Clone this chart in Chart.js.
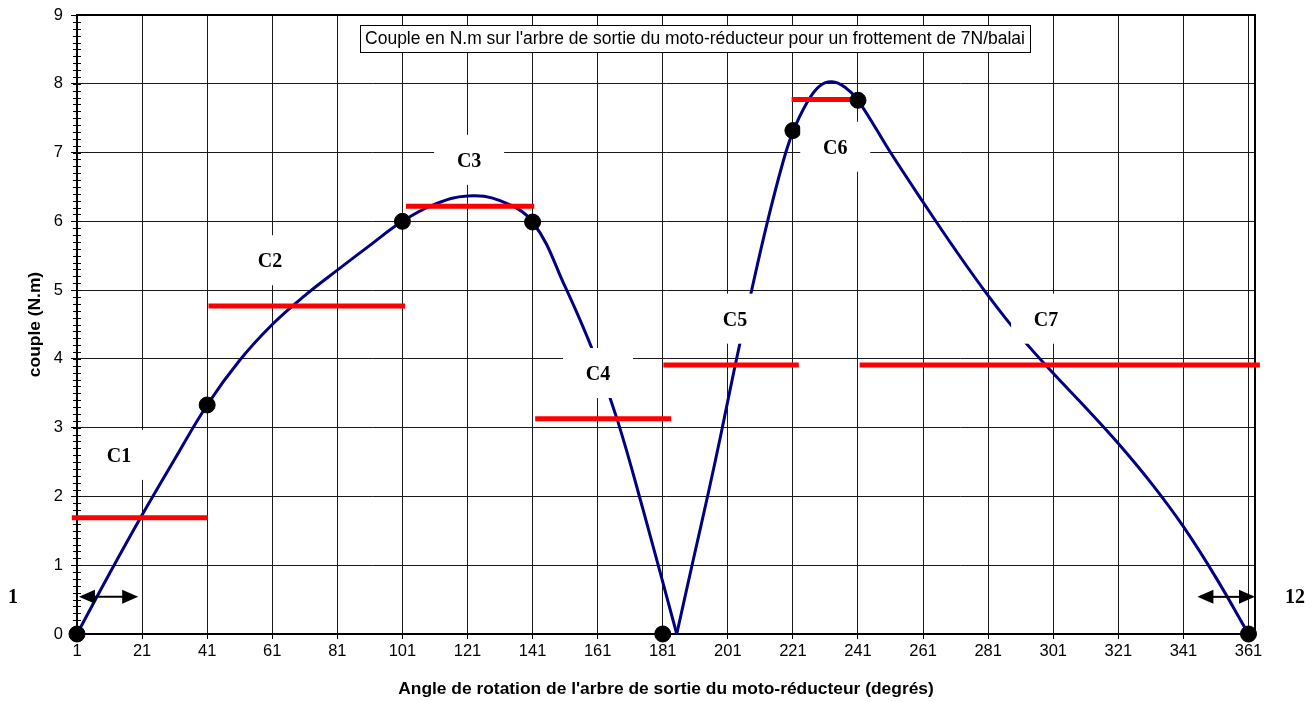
<!DOCTYPE html>
<html>
<head>
  <meta charset="utf-8">
  <title>couple moto-reducteur</title>
  <script src="https://cdn.jsdelivr.net/npm/chart.js"></script>
  <style>body{margin:0;background:#fff}</style>
</head>
<body>
  <canvas id="chart" width="1316" height="702"></canvas>

  <script>
    // torque curve (angle in degrees, torque in N.m)
    // split at the cusp near 185 degrees so the V stays sharp
    const anglesUp = [1, 11, 21, 31, 41, 51, 61, 71, 81, 91, 101, 111, 121, 131, 141, 151, 160, 167, 175, 185.3];
    const torqueUp = [0, 0.88, 1.73, 2.54, 3.33, 3.98, 4.50, 4.92, 5.29, 5.65, 6.0, 6.25, 6.37, 6.30, 5.99, 5.05, 4.06, 3.12, 1.80, 0];
    const anglesDown = [185.3, 190, 195, 199, 203, 208, 213, 218, 221, 225, 229, 233, 237, 241, 251, 261, 271, 281, 291,
      301, 311, 321, 331, 341, 351, 361];
    const torqueDown = [0, 1.0, 2.05, 2.93, 3.85, 4.93, 5.96, 6.87, 7.30, 7.70, 7.96, 8.03, 7.95, 7.76, 7.00, 6.28, 5.58, 4.92, 4.32,
      3.79, 3.29, 2.77, 2.20, 1.56, 0.82, 0];

    // black markers
    const markAngles = [1, 41, 101, 141, 181, 221, 241, 361];
    const markTorque = [0, 3.33, 6.0, 5.99, 0, 7.32, 7.76, 0];

    // red mean torque steps C1..C7
    const stepNames = ['C1', 'C2', 'C3', 'C4', 'C5', 'C6', 'C7'];
    const stepFrom = [-0.6, 41.4, 102.1, 141.8, 181.2, 220.6, 241.5];
    const stepTo = [41.2, 101.8, 141.5, 183.6, 222.8, 241.2, 364.5];
    const stepLevel = [1.69, 4.77, 6.22, 3.13, 3.91, 7.77, 3.91];
    const nameAngles = [13.9, 60.3, 121.5, 161.1, 203.2, 234, 298.8];
    const nameTorque = [2.59, 5.42, 6.88, 3.78, 4.57, 7.07, 4.57];

    // double arrows at both ends
    const arrowFrom = [1.6, 345.3];
    const arrowTo = [19.8, 363];
    const arrowLevel = 0.54;

    const xTicks = [1, 21, 41, 61, 81, 101, 121, 141, 161, 181, 201, 221, 241, 261, 281, 301, 321, 341, 361];
    const yMax = 9;

    const chartTitle = "Couple en N.m sur l'arbre de sortie du moto-réducteur pour un frottement de 7N/balai";
    const xTitle = "Angle de rotation de l'arbre de sortie du moto-réducteur (degrés)";
    const yTitle = 'couple (N.m)';

    const sans = '"Liberation Sans", Arial, sans-serif';
    const toPoints = (xs, ys) => xs.map((a, i) => ({ x: a, y: ys[i] }));
    const stepData = [];
    stepFrom.forEach((a, i) => {
      stepData.push({ x: a, y: stepLevel[i] }, { x: stepTo[i], y: stepLevel[i] }, { x: stepTo[i], y: null });
    });

    function arrow(ctx, x1, x2, y) {
      const head = 16, half = 7;
      ctx.beginPath();
      ctx.moveTo(x1 + head - 2, y);
      ctx.lineTo(x2 - head + 2, y);
      ctx.lineWidth = 2;
      ctx.strokeStyle = '#000';
      ctx.stroke();
      ctx.beginPath();
      ctx.moveTo(x1, y); ctx.lineTo(x1 + head, y - half); ctx.lineTo(x1 + head, y + half); ctx.closePath();
      ctx.moveTo(x2, y); ctx.lineTo(x2 - head, y - half); ctx.lineTo(x2 - head, y + half); ctx.closePath();
      ctx.fillStyle = '#000';
      ctx.fill();
    }

    const decor = {
      id: 'decor',
      beforeDatasetsDraw(chart) {
        const { ctx, chartArea: a, scales: { y } } = chart;
        ctx.save();
        // minor ticks on the value axis
        ctx.strokeStyle = '#000';
        ctx.lineWidth = 1;
        ctx.beginPath();
        for (let i = 0; i <= yMax * 10; i++) {
          const py = Math.round(y.getPixelForValue(i / 10)) + 0.5;
          ctx.moveTo(a.left - 4, py);
          ctx.lineTo(a.left + 4, py);
        }
        ctx.stroke();
        // frame
        ctx.lineWidth = 2;
        ctx.strokeRect(a.left, a.top, a.right - a.left, a.bottom - a.top);
        ctx.restore();
      },
      afterDatasetsDraw(chart) {
        const { ctx, chartArea: a, scales: { x, y } } = chart;
        ctx.save();
        // white label boxes
        ctx.font = 'bold 20px "Liberation Serif", "Times New Roman", serif';
        ctx.textAlign = 'center';
        ctx.textBaseline = 'middle';
        stepNames.forEach((n, i) => {
          const px = x.getPixelForValue(nameAngles[i]);
          const py = y.getPixelForValue(nameTorque[i]);
          ctx.fillStyle = '#fff';
          ctx.fillRect(px - 35, py - 26, 70, 50);
          ctx.fillStyle = '#000';
          ctx.fillText(n, px, py + 1);
        });
        // arrows and end labels
        const ay = y.getPixelForValue(arrowLevel);
        arrowFrom.forEach((f, i) => arrow(ctx, x.getPixelForValue(f), x.getPixelForValue(arrowTo[i]), ay));
        ctx.fillText('1', 13, ay + 1);
        ctx.fillText('12', 1295, ay + 1);
        // title box
        ctx.font = '17.5px ' + sans;
        const w = ctx.measureText(chartTitle).width + 10;
        const cx = 695, top = a.top + 10;
        ctx.fillStyle = '#fff';
        ctx.fillRect(cx - w / 2, top, w, 27);
        ctx.strokeStyle = '#000';
        ctx.lineWidth = 1;
        ctx.strokeRect(Math.round(cx - w / 2) + 0.5, top + 0.5, Math.round(w), 27);
        ctx.fillStyle = '#000';
        ctx.fillText(chartTitle, cx, top + 14.5);
        ctx.restore();
      }
    };

    const curveStyle = {
      showLine: true,
      borderColor: '#000080',
      borderWidth: 3,
      tension: 0.4,
      pointRadius: 0,
      clip: false,
      order: 3
    };

    new Chart(document.getElementById('chart'), {
      type: 'scatter',
      data: {
        datasets: [
          {
            label: 'points',
            data: toPoints(markAngles, markTorque),
            pointRadius: 8,
            pointHoverRadius: 8,
            backgroundColor: '#000',
            borderColor: '#000',
            clip: false,
            order: 1
          },
          {
            label: 'couple moyen',
            data: stepData,
            showLine: true,
            spanGaps: false,
            borderColor: '#ff0000',
            borderWidth: 5,
            borderCapStyle: 'butt',
            pointRadius: 0,
            clip: false,
            order: 2
          },
          { label: 'couple montée', data: toPoints(anglesUp, torqueUp), ...curveStyle },
          { label: 'couple descente', data: toPoints(anglesDown, torqueDown), ...curveStyle }
        ]
      },
      options: {
        responsive: false,
        animation: false,
        layout: { padding: { top: 15, right: 61, left: 0, bottom: 0 } },
        plugins: { legend: { display: false }, tooltip: { enabled: false } },
        scales: {
          x: {
            type: 'linear',
            min: 1,
            max: 363,
            afterBuildTicks: s => { s.ticks = xTicks.map(v => ({ value: v })); },
            afterFit: s => { s.height = 68; s.paddingLeft = 0; s.paddingRight = 0; },
            grid: { color: '#1a1a1a', lineWidth: 1, tickLength: 5, tickColor: '#000' },
            border: { color: '#000', width: 2 },
            ticks: { color: '#000', padding: 3, maxRotation: 0, autoSkip: false,
              font: { family: sans, size: 16.5 } },
            title: { display: true, text: xTitle, color: '#000', padding: { top: 0, bottom: 2 },
              font: { family: sans, size: 17.4, weight: 'bold' } }
          },
          y: {
            min: 0,
            max: yMax,
            afterFit: s => { s.width = 77; s.paddingTop = 0; s.paddingBottom = 0; },
            grid: { color: '#1a1a1a', lineWidth: 1, tickLength: 6, tickColor: '#000' },
            border: { color: '#000', width: 2 },
            ticks: { stepSize: 1, color: '#000', padding: 8,
              font: { family: sans, size: 16.5 } },
            title: { display: true, text: yTitle, color: '#000', padding: { top: 25, bottom: 0 },
              font: { family: sans, size: 17.4, weight: 'bold' } }
          }
        }
      },
      plugins: [decor]
    });
  </script>
</body>
</html>
